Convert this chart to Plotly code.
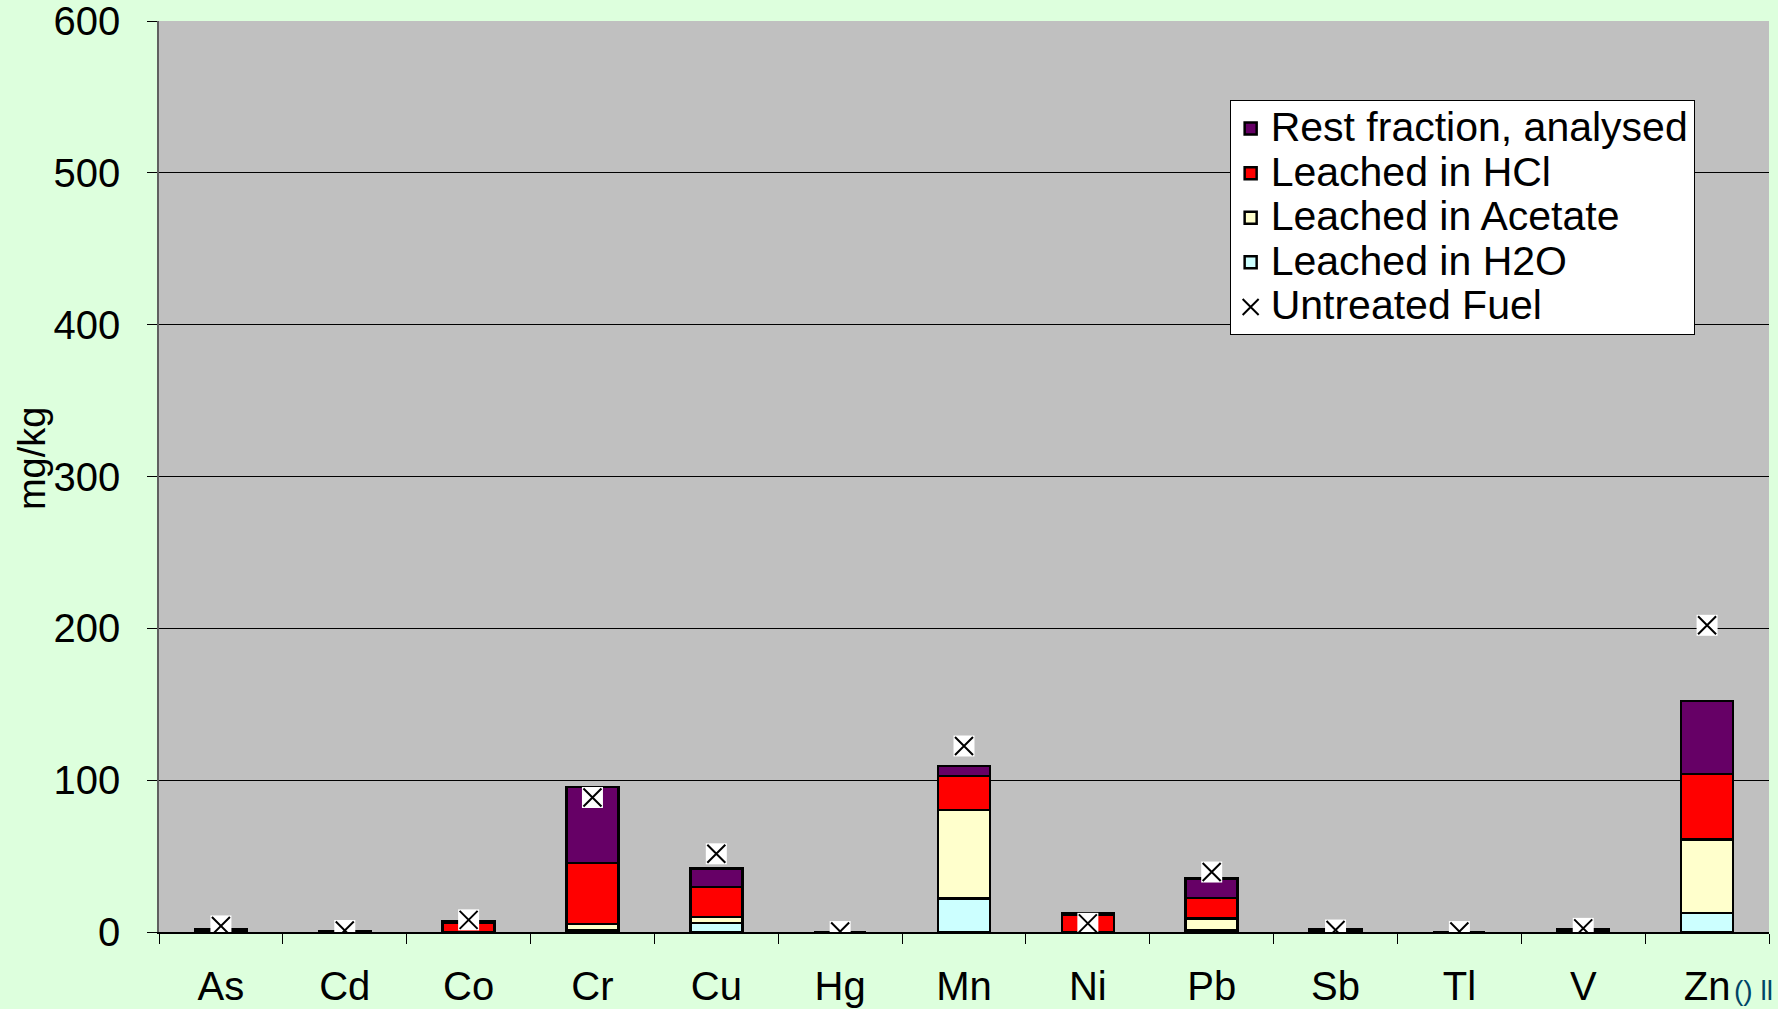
import plotly.graph_objects as go

elements = ["As", "Cd", "Co", "Cr", "Cu", "Hg", "Mn", "Ni", "Pb", "Sb", "Tl", "V", "Zn"]

# mg/kg per fraction
h2o = [0, 0, 0, 1, 6, 0, 22, 0, 1, 0, 0, 0, 12.6]
acetate = [0, 0, 0, 4.2, 4, 0, 58.5, 0, 8, 0, 0, 0, 48.4]
hcl = [1, 0, 6, 40.4, 19.7, 0, 22.3, 11.5, 13.5, 0.5, 0, 1, 43]
rest = [1, 0.8, 1.2, 50, 12, 0, 6.6, 0.7, 12.7, 1, 0, 1, 48]
untreated = [4, 1, 8, 88.6, 51.5, 0.3, 122.5, 5.7, 39.5, 1.3, 0.3, 2.4, 202]

font = "Liberation Sans, Arial, sans-serif"


def big(name):
    # legend rows are spaced by the legend font size, so keep that small and enlarge the text
    return "<span style='font-size:41px'>" + name + "</span>"


fig = go.Figure()
bar_line = dict(color="black", width=2.5)
fig.add_trace(go.Bar(x=elements, y=h2o, name=big("Leached in H2O"), legendrank=4,
                     marker=dict(color="#CCFFFF", line=bar_line)))
fig.add_trace(go.Bar(x=elements, y=acetate, name=big("Leached in Acetate"), legendrank=3,
                     marker=dict(color="#FFFFCC", line=bar_line)))
fig.add_trace(go.Bar(x=elements, y=hcl, name=big("Leached in HCl"), legendrank=2,
                     marker=dict(color="#FF0000", line=bar_line)))
fig.add_trace(go.Bar(x=elements, y=rest, name=big("Rest fraction, analysed"), legendrank=1,
                     marker=dict(color="#660066", line=bar_line)))
# white square behind each cross
fig.add_trace(go.Scatter(x=elements, y=untreated, mode="markers", showlegend=False,
                         marker=dict(symbol="square", size=21, color="white",
                                     line=dict(width=0)), hoverinfo="skip"))
fig.add_trace(go.Scatter(x=elements, y=untreated, mode="markers", name=big("Untreated Fuel"),
                         legendrank=5,
                         marker=dict(symbol="x-thin", size=18, color="black",
                                     line=dict(color="black", width=2))))

fig.update_layout(
    width=1778, height=1009,
    barmode="stack", bargap=0.58,
    paper_bgcolor="#DDFFDD", plot_bgcolor="#C0C0C0",
    font=dict(family=font, size=40, color="black"),
    margin=dict(l=159, r=9, t=21, b=77),
    legend=dict(x=0.665, y=0.913, xanchor="left", yanchor="top", traceorder="normal",
                bgcolor="white", bordercolor="black", borderwidth=1,
                font=dict(size=32), tracegroupgap=0, itemwidth=30),
    annotations=[
        dict(text="mg/kg", textangle=-90, xref="paper", yref="paper",
             x=-0.079, y=0.52, xanchor="center", yanchor="middle",
             showarrow=False, font=dict(size=38)),
        dict(text="() ll", xref="paper", yref="paper", x=1.004, y=-0.083,
             xanchor="right", yanchor="bottom", showarrow=False,
             font=dict(size=28, color="#004466")),
    ],
)
fig.update_yaxes(range=[0, 600], dtick=100, showgrid=True, gridcolor="black", gridwidth=1,
                 showline=True, linecolor="#606060", linewidth=1.5,
                 ticks="outside", ticklen=10, tickcolor="black", automargin=False,
                 ticklabelstandoff=19, ticklabeloverflow="allow", zeroline=False)
fig.update_xaxes(range=[-0.5, 12.5], showline=True, linecolor="black", linewidth=1.5,
                 ticks="outside", ticklen=10, tickcolor="black", tickson="boundaries",
                 ticklabelstandoff=18, automargin=False)

fig.write_html("out.html", post_script="document.body.style.margin='0';",
               config={"displayModeBar": False})
